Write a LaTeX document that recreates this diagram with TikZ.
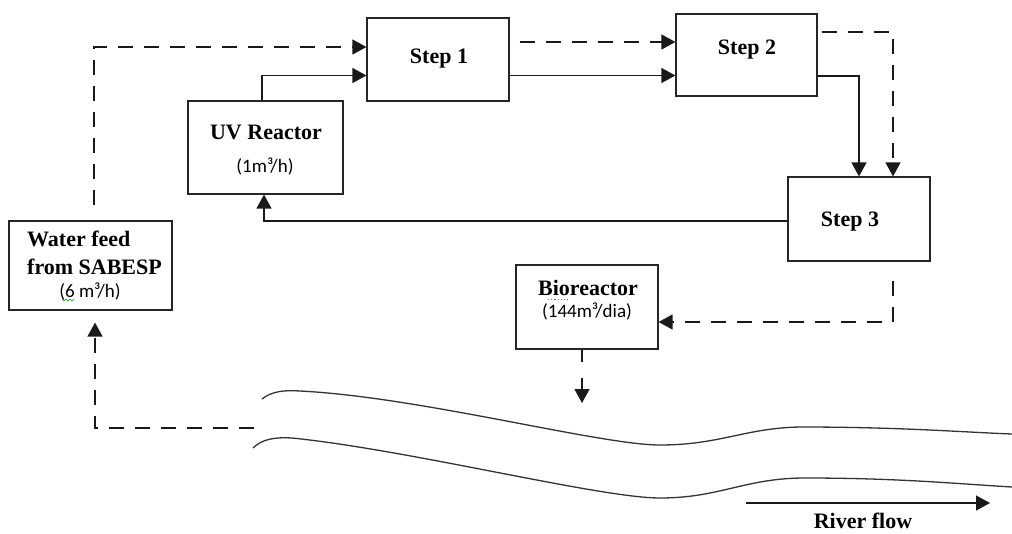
\documentclass[tikz,border=0pt]{standalone}
\usepackage{fontspec}
\setmainfont{Liberation Serif}
\newfontfamily\ratefont{Carlito}
\usetikzlibrary{arrows.meta,calc}

\begin{document}
\begin{tikzpicture}[x=1pt,y=-1pt,
  box/.style={draw=black!85,line width=1.2pt,inner sep=0pt},
  lbl/.style={font=\fontsize{22}{24}\selectfont\bfseries,inner sep=0pt,anchor=base},
  ratelbl/.style={font=\ratefont\fontsize{19}{21}\selectfont,inner sep=0pt,anchor=base},
  wire/.style={line width=1.3pt,draw=black!90},
  flow/.style={wire,-{Triangle[length=14pt,width=15pt]}},
  dsh/.style={dash pattern=on 15pt off 11pt},
  bank/.style={line width=1.3pt,draw=black!80},
]
\useasboundingbox (0,0) rectangle (1012,533);

% process boxes
\node[box,minimum width=142pt,minimum height=83pt] (step1) at (438,59.5) {};
\node[box,minimum width=141pt,minimum height=82pt] (step2) at (746.5,55) {};
\node[box,minimum width=142pt,minimum height=84pt] (step3) at (859,219) {};
\node[box,minimum width=155pt,minimum height=93pt] (uv)    at (265.5,147.5) {};
\node[box,minimum width=163pt,minimum height=89pt] (feed)  at (90.5,265.5) {};
\node[box,minimum width=142pt,minimum height=84pt] (bio)   at (587,307) {};

% box texts
\node[lbl] (t1) at (439,63) {Step 1};
\node[lbl] (t2) at (747,54) {Step 2};
\node[lbl] (t3) at (850,226) {Step 3};
\node[lbl] (tuv) at (266,139) {UV Reactor};
\node[ratelbl] (ruv) at (265,172) {(1m³/h)};
\node[lbl,anchor=base west] (tf1) at (27,246) {Water feed};
\node[lbl,anchor=base west] (tf2) at (27,274) {from SABESP};
\node[ratelbl] (rf) at (90,297) {(6 m³/h)};
\node[lbl] (tbio) at (588,295) {Bioreactor};
\node[ratelbl] (rbio) at (587,317) {(144m³/dia)};

% spell-check marks under the texts
\draw[green!55!black,line width=0.6pt] (62,299) -- (64,301) -- (66,299) -- (68,301) -- (70,299) -- (72,301) -- (74,299);
\draw[red!80,line width=0.9pt,dash pattern=on 1.2pt off 2pt] (548,299) -- (569,299);

% flows between the units
\draw[flow,dsh,shorten <=15pt] ([xshift=3.5pt]feed.north) |- ([yshift=12.5pt]step1.west);
\draw[flow] ([xshift=-3.5pt]uv.north) |- ([yshift=-16pt]step1.west);
\draw[flow,dsh,shorten <=10pt] ([yshift=17.5pt]step1.east) -- ([yshift=17.5pt]step1.east -| step2.west);
\draw[flow] ([yshift=-16pt]step1.east) -- ([yshift=-16pt]step1.east -| step2.west);
\draw[flow] ([yshift=-21pt]step2.east) -| (step3.north);
\draw[flow,dsh,shorten <=4pt] ([yshift=23pt]step2.east) -| ([xshift=34pt]step3.north);
\draw[flow] ([yshift=-2pt]step3.west) -| ([xshift=-1.5pt]uv.south);
\draw[flow,dsh,shorten <=19pt] ([xshift=34pt]step3.south) |- ([yshift=-15pt]bio.east);

% discharge to the river
\coordinate (bioend) at (582,362);
\coordinate (dropa) at (582,378);
\coordinate (dropb) at (582,403);
\draw[wire] ([xshift=-5pt]bio.south) -- (bioend);
\draw[flow] (dropa) -- (dropb);

% intake from the river back to the feed
\coordinate (intake) at (254,428);
\draw[flow,dsh] (intake) -| ([xshift=4.5pt,yshift=-12pt]feed.south);

% river banks
\draw[bank] (262,399) .. controls (272,391) and (285,390) .. (300,391)
  .. controls (420,397) and (600,445) .. (660,445)
  .. controls (720,445) and (745,428) .. (800,427)
  .. controls (900,427) and (960,432) .. (1012,434);
\draw[bank] (253,448) .. controls (262,439) and (275,437) .. (292,438)
  .. controls (410,450) and (600,498) .. (660,498)
  .. controls (720,498) and (745,478) .. (805,478)
  .. controls (900,478) and (960,484) .. (1012,487);

% river direction
\coordinate (rfa) at (746,503);
\coordinate (rfb) at (990,503);
\draw[flow] (rfa) -- (rfb);
\node[lbl] (rflow) at (863,528) {River flow};
\end{tikzpicture}
\end{document}
